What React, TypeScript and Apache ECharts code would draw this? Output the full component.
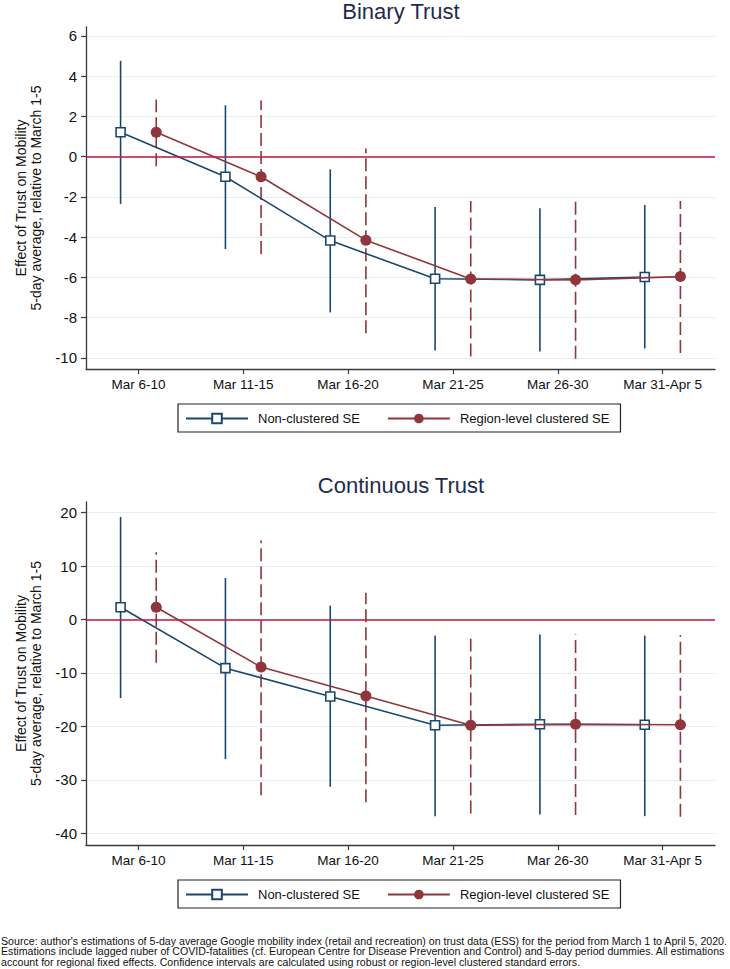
import React, { useEffect, useRef } from "react";
import * as echarts from "echarts";

const periods = ["Mar 6-10", "Mar 11-15", "Mar 16-20", "Mar 21-25", "Mar 26-30", "Mar 31-Apr 5"];
const periodTicks = [1, 2, 3, 4, 5, 6];

const binaryTicks = [-10, -8, -6, -4, -2, 0, 2, 4, 6];
const continuousTicks = [-40, -30, -20, -10, 0, 10, 20];

// Binary Trust
const binaryNonEst = [1.21, -1.0, -4.17, -6.07, -6.12, -5.98];
const binaryNonLo = [-2.35, -4.59, -7.74, -9.63, -9.68, -9.53];
const binaryNonHi = [4.76, 2.55, -0.63, -2.5, -2.56, -2.4];
const binaryCluEst = [1.21, -1.0, -4.15, -6.08, -6.12, -5.96];
const binaryCluLo = [-0.48, -4.84, -8.77, -9.93, -10.04, -9.76];
const binaryCluHi = [2.84, 2.79, 0.41, -2.2, -2.2, -2.2];

// Continuous Trust
const contNonEst = [2.3, -9.1, -14.4, -19.8, -19.6, -19.7];
const contNonLo = [-14.7, -26.1, -31.3, -36.8, -36.5, -36.8];
const contNonHi = [19.2, 7.8, 2.6, -3.0, -2.8, -3.0];
const contCluEst = [2.3, -8.9, -14.3, -19.8, -19.6, -19.7];
const contCluLo = [-8.1, -32.9, -34.2, -36.3, -36.6, -36.9];
const contCluHi = [12.6, 14.8, 5.0, -3.6, -2.8, -2.9];

const NAME_NON = "Non-clustered SE";
const NAME_CLU = "Region-level clustered SE";

const footnote = [
  "Source: author's estimations of 5-day average Google mobility index (retail and recreation) on trust data (ESS) for the period from March 1 to April 5, 2020.",
  "Estimations include lagged nuber of COVID-fatalities (cf. European Centre for Disease Prevention and Control) and 5-day period dummies. All estimations",
  "account for regional fixed effects. Confidence intervals are calculated using robust or region-level clustered standard errors.",
];

const NAVY = "#1a476f";
const MAROON = "#90353b";
const REF = "#c5163d";
const GRID = "#e8eef0";
const AXIS = "#3a3a3a";
const FONT = "'Liberation Sans', Arial, Helvetica, sans-serif";
const DX = 0.17;

function ciSeries(gridIdx: number, xs: number[], lo: number[], hi: number[], color: string, dashed: boolean) {
  return {
    type: "custom",
    xAxisIndex: gridIdx,
    yAxisIndex: gridIdx,
    z: 2,
    silent: true,
    encode: { x: 0, y: [1, 2] },
    data: xs.map((x, i) => [x, lo[i], hi[i]]),
    renderItem: (params: any, api: any) => {
      const p1 = api.coord([api.value(0), api.value(1)]);
      const p2 = api.coord([api.value(0), api.value(2)]);
      return {
        type: "line",
        shape: { x1: p1[0], y1: p1[1], x2: p2[0], y2: p2[1] },
        style: { stroke: color, lineWidth: 1.6, lineDash: dashed ? [13, 5] : null },
      };
    },
  };
}

function estSeries(gridIdx: number, name: string, xs: number[], est: number[], isNon: boolean, withRef: boolean) {
  const s: any = {
    type: "line",
    name,
    xAxisIndex: gridIdx,
    yAxisIndex: gridIdx,
    z: isNon ? 3 : 4,
    data: xs.map((x, i) => [x, est[i]]),
    symbol: isNon ? "rect" : "circle",
    symbolSize: isNon ? 9 : 11,
    showAllSymbol: true,
    lineStyle: { color: isNon ? NAVY : MAROON, width: 1.6 },
    itemStyle: isNon
      ? { color: "#ffffff", borderColor: NAVY, borderWidth: 1.6 }
      : { color: MAROON, borderColor: MAROON, borderWidth: 0 },
    emphasis: { disabled: true },
  };
  if (withRef) {
    s.markLine = {
      silent: true,
      symbol: ["none", "none"],
      label: { show: false },
      emphasis: { disabled: true },
      lineStyle: { color: REF, width: 1.6, type: "solid" },
      data: [{ yAxis: 0 }],
    };
  }
  return s;
}

function xAxisFor(gridIdx: number) {
  return {
    type: "value",
    gridIndex: gridIdx,
    min: 0.5,
    max: 6.5,
    axisLine: { show: true, onZero: false, lineStyle: { color: AXIS, width: 1.3 } },
    axisTick: { show: true, length: 5, customValues: periodTicks, lineStyle: { color: AXIS, width: 1.2 } },
    axisLabel: {
      customValues: periodTicks,
      formatter: (v: number) => periods[Math.round(v) - 1] || "",
      fontSize: 13.5,
      fontFamily: FONT,
      color: "#111",
      margin: 8,
    },
    splitLine: { show: false },
  };
}

function yAxisFor(gridIdx: number, min: number, max: number, ticks: number[]) {
  return {
    type: "value",
    gridIndex: gridIdx,
    min,
    max,
    name: "Effect of Trust on Mobility\n5-day average, relative to March 1-5",
    nameLocation: "middle",
    nameRotate: 90,
    nameGap: 42,
    nameTextStyle: { fontSize: 14, fontFamily: FONT, color: "#111", lineHeight: 15.5, align: "center" },
    axisLine: { show: true, onZero: false, lineStyle: { color: AXIS, width: 1.3 } },
    axisTick: { show: true, length: 5, customValues: ticks, lineStyle: { color: AXIS, width: 1.2 } },
    axisLabel: { customValues: ticks, fontSize: 15, fontFamily: FONT, color: "#111", margin: 9 },
    splitLine: { show: true, customValues: ticks, lineStyle: { color: GRID, width: 1.2 } },
  };
}

function legendAt(top: number) {
  return {
    data: [NAME_NON, NAME_CLU],
    left: 178,
    top,
    orient: "horizontal",
    itemWidth: 62,
    itemHeight: 12,
    itemGap: 27,
    padding: [8, 11, 7, 7],
    borderColor: "#222",
    borderWidth: 1.2,
    selectedMode: false,
    textStyle: { fontSize: 13, fontFamily: FONT, color: "#111", padding: [0, 0, 0, 5] },
  };
}

export default function App() {
  const ref = useRef<HTMLDivElement>(null);
  useEffect(() => {
    if (!ref.current) return;
    const chart = echarts.init(ref.current, undefined, { renderer: "svg" });
    const xsNon = periodTicks.map((t) => t - DX);
    const xsClu = periodTicks.map((t) => t + DX);
    const option: any = {
      animation: false,
      backgroundColor: "#ffffff",
      grid: [
        { left: 86, right: 15, top: 27, height: 342 },
        { left: 86, right: 15, top: 502, height: 343 },
      ],
      xAxis: [xAxisFor(0), xAxisFor(1)],
      yAxis: [yAxisFor(0, -10.55, 6.44, binaryTicks), yAxisFor(1, -42.2, 22.0, continuousTicks)],
      legend: [legendAt(404), legendAt(880)],
      graphic: [
        {
          type: "text",
          x: 401,
          y: 0,
          style: { text: "Binary Trust", font: `22px ${FONT}`, fill: "#1f2b4d", textAlign: "center", textVerticalAlign: "top" },
        },
        {
          type: "text",
          x: 401,
          y: 474,
          style: { text: "Continuous Trust", font: `22px ${FONT}`, fill: "#1f2b4d", textAlign: "center", textVerticalAlign: "top" },
        },
        {
          type: "text",
          x: 1,
          y: 935,
          scaleX: 0.925,
          style: { text: footnote.join("\n"), font: `11.5px ${FONT}`, fill: "#111", lineHeight: 10.8, textVerticalAlign: "top" },
        },
      ],
      series: [
        ciSeries(0, xsNon, binaryNonLo, binaryNonHi, NAVY, false),
        ciSeries(0, xsClu, binaryCluLo, binaryCluHi, MAROON, true),
        estSeries(0, NAME_NON, xsNon, binaryNonEst, true, true),
        estSeries(0, NAME_CLU, xsClu, binaryCluEst, false, false),
        ciSeries(1, xsNon, contNonLo, contNonHi, NAVY, false),
        ciSeries(1, xsClu, contCluLo, contCluHi, MAROON, true),
        estSeries(1, NAME_NON, xsNon, contNonEst, true, true),
        estSeries(1, NAME_CLU, xsClu, contCluEst, false, false),
      ],
    };
    chart.setOption(option);
    return () => chart.dispose();
  }, []);
  return <div ref={ref} style={{ width: 730, height: 969, position: "absolute", left: 0, top: 0 }} />;
}
